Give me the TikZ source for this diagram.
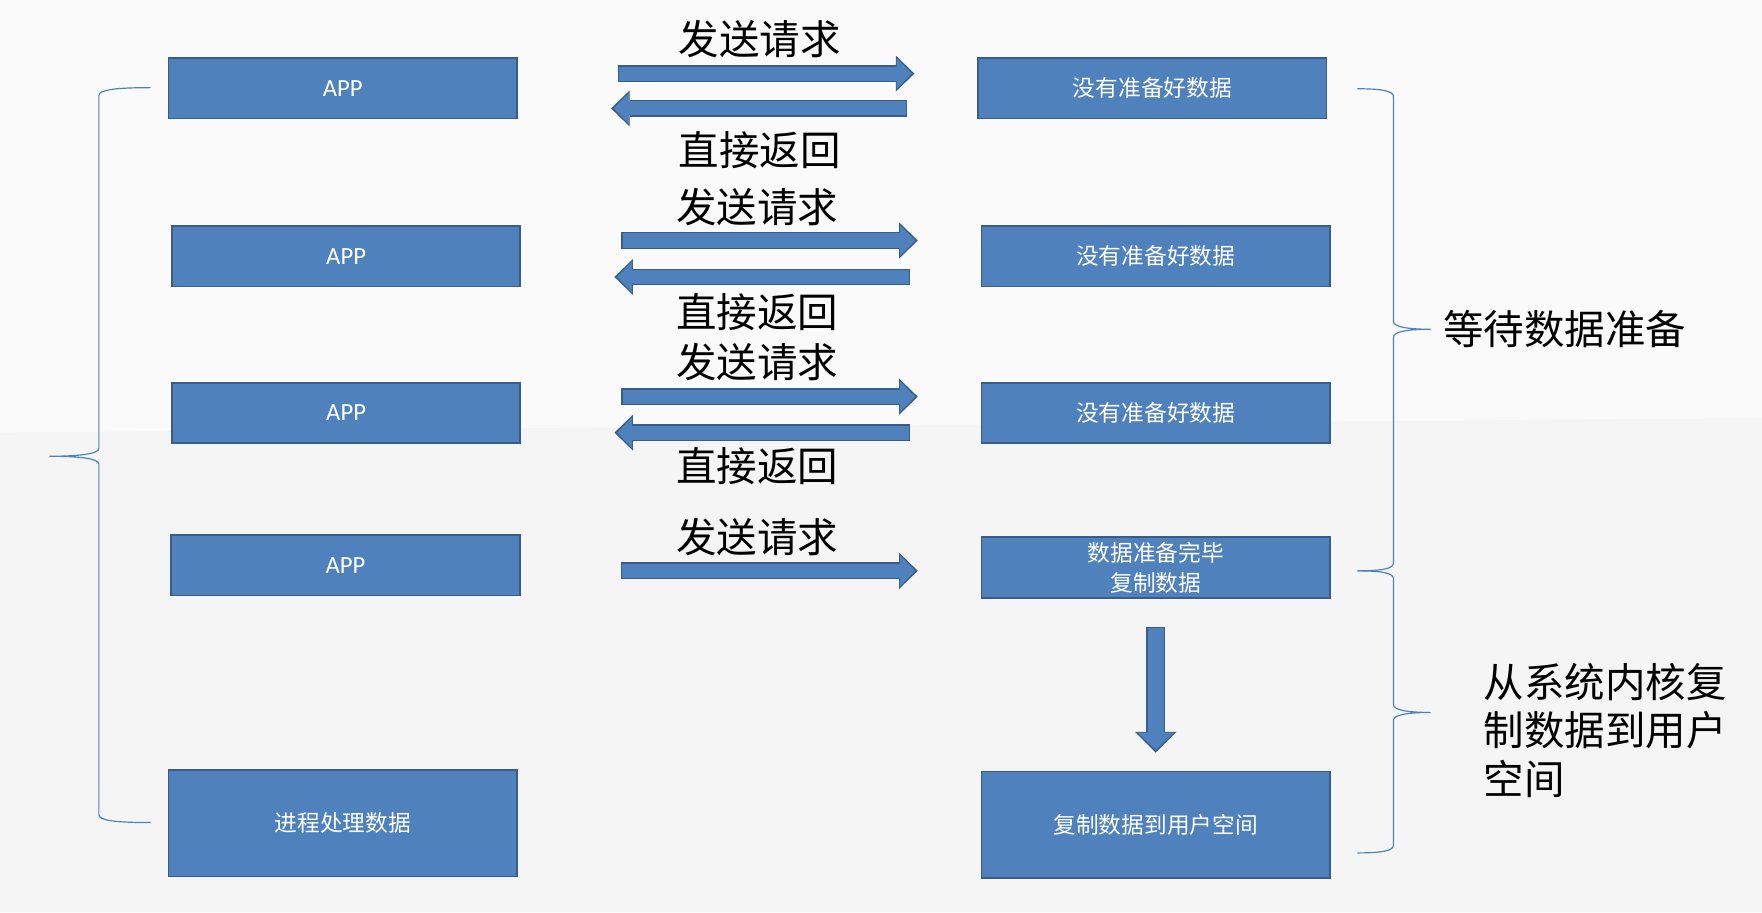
\documentclass[tikz,border=0pt]{standalone}
\usepackage{fontspec}
\setmainfont{Carlito}
\newfontfamily\cjk{Noto Sans CJK SC}
\usetikzlibrary{arrows.meta, positioning}
\definecolor{xBlue}{RGB}{79,129,189}
\definecolor{xEdge}{RGB}{56,93,138}
\definecolor{xPaper}{RGB}{250,250,250}
\definecolor{xShade}{RGB}{245,245,245}
\tikzset{
  box/.style={draw=xEdge, fill=xBlue, line width=0.9pt, text=white, align=center, inner sep=0pt,
              minimum width=62mm, minimum height=10.8mm, font=\cjk\fontsize{11.5}{15}\selectfont},
  app/.style={box, font=\fontsize{12.5}{15}\selectfont},
  tallbox/.style={box, minimum height=19mm},
  say/.style={font=\cjk\fontsize{20.5}{24.5}\selectfont, inner sep=0pt, align=left},
  brace/.style={xBlue, line width=0.6pt},
  fat/.style 2 args={line width=3mm, xEdge, -{Triangle[width=6.4mm, length=3.3mm, line width'=0pt]},
              shorten <=#1, shorten >=#2,
              postaction={draw=xBlue, line width=2.5mm, -{Triangle[width=5.5mm, length=2.7mm, line width'=0pt]},
                          shorten <=#1+0.25mm, shorten >=#2+0.45mm}},
  go/.style={fat={17.8mm}{11.2mm}},
  back/.style={fat={12.5mm}{16.6mm}},
  fatdown/.style={line width=3.4mm, xEdge, -{Triangle[width=7.4mm, length=3.7mm, line width'=0pt]},
              shorten <=5mm, shorten >=3.2mm,
              postaction={draw=xBlue, line width=2.9mm, -{Triangle[width=6.5mm, length=3.1mm, line width'=0pt]},
                          shorten <=5.25mm, shorten >=3.65mm}},
}
% end x, spine x, tip x, top y, tip y, bottom y
\newcommand{\Curly}[6]{%
  \draw[brace] (#1,#4) .. controls ({#2+0.3*(#1-#2)},#4) and (#2,#4+2) .. (#2,#4+7)
    -- (#2,#5-7) .. controls (#2,#5-2) and ({#3+0.6*(#2-#3)},#5) .. (#3,#5)
    .. controls ({#3+0.6*(#2-#3)},#5) and (#2,#5+2) .. (#2,#5+7)
    -- (#2,#6-7) .. controls (#2,#6-2) and ({#2+0.3*(#1-#2)},#6) .. (#1,#6);}

\begin{document}
\begin{tikzpicture}[x=0.2mm, y=-0.2mm]
    \fill[xPaper] (0,0) rectangle (1568,812);
    \fill[xShade] (0,385) -- (1568,372) -- (1568,812) -- (0,812) -- cycle;
    \useasboundingbox (0,0) rectangle (1568,812);

    % user side
    \node[app] (a1) at (305,78.5)   {APP};
    \node[app] (a2) at (308,228)    {APP};
    \node[app] (a3) at (308,367.5)  {APP};
    \node[app] (a4) at (307.5,503)  {APP};
    \node[tallbox] (pr) at (305,732.5) {进程处理数据};

    % kernel side
    \node[box] (r1) at (1025.5,78.5) {没有准备好数据};
    \node[box] (r2) at (1028.5,228)  {没有准备好数据};
    \node[box] (r3) at (1028.5,367.5) {没有准备好数据};
    \node[box] (r4) at (1028.5,505)  {数据准备完毕\\复制数据};
    \node[tallbox] (r5) at (1028.5,734) {复制数据到用户空间};

    \node[say] (q1) at (676,35)  {发送请求};
    \node[say] (b1) at (676,134) {直接返回};
    \node[say] (q2) at (674,184) {发送请求};
    \node[say] (b2) at (674,278) {直接返回};
    \node[say] (q3) at (674,322) {发送请求};
    \node[say] (b3) at (674,415) {直接返回};
    \node[say] (q4) at (674,478) {发送请求};
    \node[say, anchor=west] (wait) at (1284,293) {等待数据准备};
    \node[say, anchor=west] (copy) at (1320,650) {从系统内核复\\制数据到用户\\空间};

    \draw[go]   ([yshift=2.6mm]a1.east) -- ([yshift=2.6mm]a1.east -| r1.west);
    \draw[back] ([yshift=-3.6mm]r1.west) -- ([yshift=-3.6mm]r1.west -| a1.east);
    \draw[go]   ([yshift=2.8mm]a2.east) -- ([yshift=2.8mm]a2.east -| r2.west);
    \draw[back] ([yshift=-3.7mm]r2.west) -- ([yshift=-3.7mm]r2.west -| a2.east);
    \draw[go]   ([yshift=2.9mm]a3.east) -- ([yshift=2.9mm]a3.east -| r3.west);
    \draw[back] ([yshift=-3.5mm]r3.west) -- ([yshift=-3.5mm]r3.west -| a3.east);
    \draw[go]   ([yshift=-1mm]a4.east) -- ([yshift=-1mm]a4.east -| r4.west);
    \draw[fatdown] (r4.south) -- (r5.north);

    \Curly{134}{88}{44}{78}{406}{732}
    \Curly{1208}{1240}{1273}{79}{293}{508}
    \Curly{1208}{1240}{1273}{508}{634}{759}
\end{tikzpicture}
\end{document}
